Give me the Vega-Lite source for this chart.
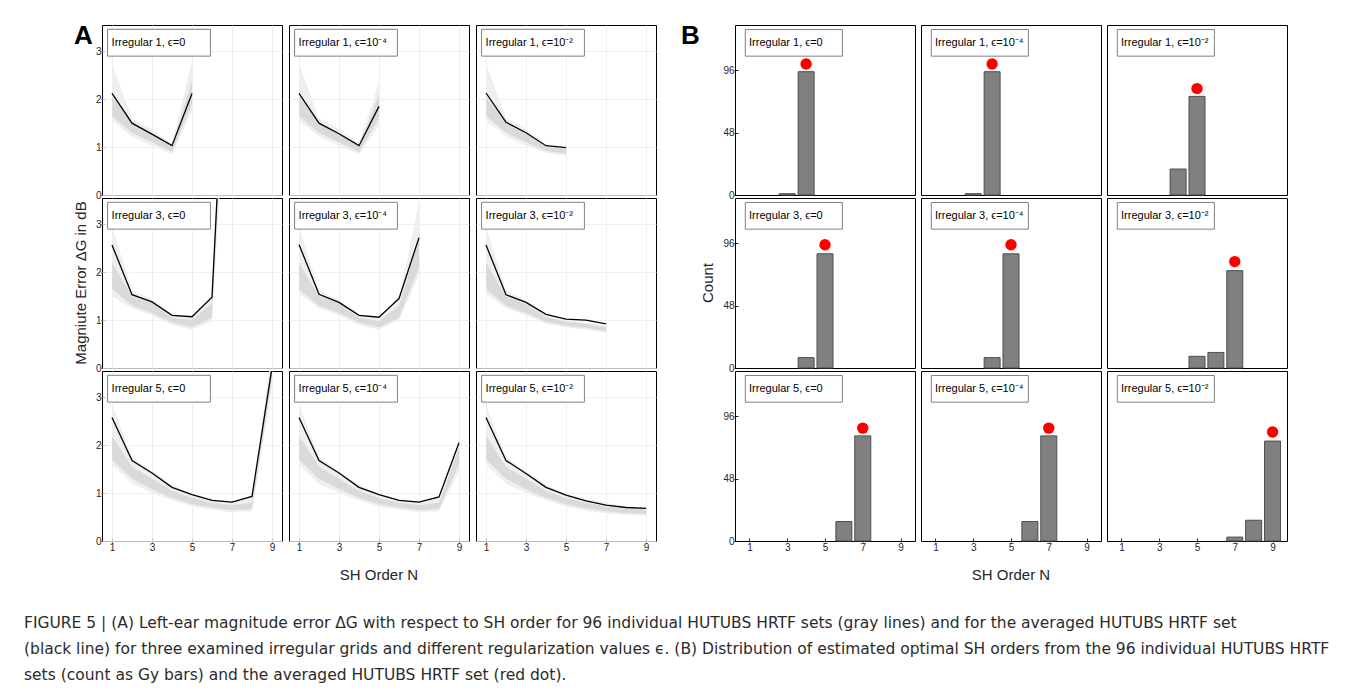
{
  "$schema": "https://vega.github.io/schema/vega-lite/v6.json",
  "padding": {"left": 23, "top": 22, "right": 10, "bottom": 5},
  "background": "#ffffff",
  "title": {
    "text": [
      "FIGURE 5 | (A) Left-ear magnitude error ΔG with respect to SH order for 96 individual HUTUBS HRTF sets (gray lines) and for the averaged HUTUBS HRTF set",
      "(black line) for three examined irregular grids and different regularization values ϵ. (B) Distribution of estimated optimal SH orders from the 96 individual HUTUBS HRTF",
      "sets (count as Gy bars) and the averaged HUTUBS HRTF set (red dot)."
    ],
    "orient": "bottom",
    "anchor": "start",
    "frame": "bounds",
    "dx": -50,
    "offset": 33,
    "fontSize": 15.5,
    "fontWeight": "normal",
    "lineHeight": 26,
    "color": "#2b2b2b",
    "font": "DejaVu Sans"
  },
  "datasets": {
    "a": [
      {"g": "1", "e": "0", "t": "Irregular 1,  ϵ=0"},
      {"g": "1", "e": "-4", "t": "Irregular 1,  ϵ=10⁻⁴"},
      {"g": "1", "e": "-2", "t": "Irregular 1,  ϵ=10⁻²"},
      {"g": "3", "e": "0", "t": "Irregular 3,  ϵ=0"},
      {"g": "3", "e": "-4", "t": "Irregular 3,  ϵ=10⁻⁴"},
      {"g": "3", "e": "-2", "t": "Irregular 3,  ϵ=10⁻²"},
      {"g": "5", "e": "0", "t": "Irregular 5,  ϵ=0"},
      {"g": "5", "e": "-4", "t": "Irregular 5,  ϵ=10⁻⁴"},
      {"g": "5", "e": "-2", "t": "Irregular 5,  ϵ=10⁻²"},

      {"g": "1", "e": "0", "n": 1, "lo": 1.55, "hi": 2.75, "clo": 1.65, "chi": 2.05, "m": 2.12},
      {"g": "1", "e": "0", "n": 2, "lo": 1.22, "hi": 1.6, "clo": 1.3, "chi": 1.5, "m": 1.5},
      {"g": "1", "e": "0", "n": 3, "lo": 1.03, "hi": 1.38, "clo": 1.1, "chi": 1.28, "m": 1.27},
      {"g": "1", "e": "0", "n": 4, "lo": 0.85, "hi": 1.08, "clo": 0.9, "chi": 1.02, "m": 1.03},
      {"g": "1", "e": "0", "n": 5, "lo": 1.75, "hi": 2.8, "clo": 1.9, "chi": 2.4, "m": 2.12},

      {"g": "1", "e": "-4", "n": 1, "lo": 1.55, "hi": 2.75, "clo": 1.65, "chi": 2.05, "m": 2.12},
      {"g": "1", "e": "-4", "n": 2, "lo": 1.22, "hi": 1.6, "clo": 1.3, "chi": 1.5, "m": 1.5},
      {"g": "1", "e": "-4", "n": 3, "lo": 1.03, "hi": 1.38, "clo": 1.1, "chi": 1.28, "m": 1.28},
      {"g": "1", "e": "-4", "n": 4, "lo": 0.85, "hi": 1.08, "clo": 0.9, "chi": 1.02, "m": 1.03},
      {"g": "1", "e": "-4", "n": 5, "lo": 1.45, "hi": 2.35, "clo": 1.6, "chi": 2.1, "m": 1.85},

      {"g": "1", "e": "-2", "n": 1, "lo": 1.55, "hi": 2.75, "clo": 1.65, "chi": 2.05, "m": 2.13},
      {"g": "1", "e": "-2", "n": 2, "lo": 1.22, "hi": 1.6, "clo": 1.3, "chi": 1.5, "m": 1.52},
      {"g": "1", "e": "-2", "n": 3, "lo": 1.03, "hi": 1.38, "clo": 1.1, "chi": 1.28, "m": 1.3},
      {"g": "1", "e": "-2", "n": 4, "lo": 0.88, "hi": 1.05, "clo": 0.92, "chi": 1.0, "m": 1.03},
      {"g": "1", "e": "-2", "n": 5, "lo": 0.82, "hi": 1.0, "clo": 0.86, "chi": 0.96, "m": 0.99},

      {"g": "3", "e": "0", "n": 1, "lo": 1.5, "hi": 2.95, "clo": 1.65, "chi": 2.2, "m": 2.57},
      {"g": "3", "e": "0", "n": 2, "lo": 1.25, "hi": 1.62, "clo": 1.3, "chi": 1.5, "m": 1.53},
      {"g": "3", "e": "0", "n": 3, "lo": 1.1, "hi": 1.45, "clo": 1.15, "chi": 1.35, "m": 1.38},
      {"g": "3", "e": "0", "n": 4, "lo": 0.9, "hi": 1.12, "clo": 0.95, "chi": 1.05, "m": 1.1},
      {"g": "3", "e": "0", "n": 5, "lo": 0.8, "hi": 1.05, "clo": 0.85, "chi": 1.0, "m": 1.07},
      {"g": "3", "e": "0", "n": 6, "lo": 0.98, "hi": 1.45, "clo": 1.05, "chi": 1.35, "m": 1.48},
      {"g": "3", "e": "0", "n": 7, "lo": 8.0, "hi": 12.0, "clo": 9.0, "chi": 11.0, "m": 9.7},

      {"g": "3", "e": "-4", "n": 1, "lo": 1.55, "hi": 2.95, "clo": 1.65, "chi": 2.2, "m": 2.58},
      {"g": "3", "e": "-4", "n": 2, "lo": 1.25, "hi": 1.62, "clo": 1.3, "chi": 1.5, "m": 1.54},
      {"g": "3", "e": "-4", "n": 3, "lo": 1.1, "hi": 1.42, "clo": 1.15, "chi": 1.35, "m": 1.37},
      {"g": "3", "e": "-4", "n": 4, "lo": 0.9, "hi": 1.12, "clo": 0.95, "chi": 1.05, "m": 1.1},
      {"g": "3", "e": "-4", "n": 5, "lo": 0.8, "hi": 1.02, "clo": 0.85, "chi": 0.98, "m": 1.06},
      {"g": "3", "e": "-4", "n": 6, "lo": 1.0, "hi": 1.4, "clo": 1.05, "chi": 1.3, "m": 1.45},
      {"g": "3", "e": "-4", "n": 7, "lo": 1.95, "hi": 3.5, "clo": 2.1, "chi": 2.7, "m": 2.72},

      {"g": "3", "e": "-2", "n": 1, "lo": 1.55, "hi": 2.95, "clo": 1.65, "chi": 2.2, "m": 2.57},
      {"g": "3", "e": "-2", "n": 2, "lo": 1.25, "hi": 1.62, "clo": 1.3, "chi": 1.5, "m": 1.53},
      {"g": "3", "e": "-2", "n": 3, "lo": 1.1, "hi": 1.42, "clo": 1.15, "chi": 1.33, "m": 1.37},
      {"g": "3", "e": "-2", "n": 4, "lo": 0.92, "hi": 1.1, "clo": 0.96, "chi": 1.06, "m": 1.12},
      {"g": "3", "e": "-2", "n": 5, "lo": 0.85, "hi": 1.0, "clo": 0.88, "chi": 0.97, "m": 1.02},
      {"g": "3", "e": "-2", "n": 6, "lo": 0.8, "hi": 0.95, "clo": 0.84, "chi": 0.92, "m": 1.0},
      {"g": "3", "e": "-2", "n": 7, "lo": 0.74, "hi": 0.88, "clo": 0.77, "chi": 0.85, "m": 0.92},

      {"g": "5", "e": "0", "n": 1, "lo": 1.6, "hi": 2.85, "clo": 1.7, "chi": 2.2, "m": 2.58},
      {"g": "5", "e": "0", "n": 2, "lo": 1.2, "hi": 1.75, "clo": 1.3, "chi": 1.55, "m": 1.68},
      {"g": "5", "e": "0", "n": 3, "lo": 1.0, "hi": 1.45, "clo": 1.08, "chi": 1.3, "m": 1.42},
      {"g": "5", "e": "0", "n": 4, "lo": 0.85, "hi": 1.18, "clo": 0.9, "chi": 1.05, "m": 1.12},
      {"g": "5", "e": "0", "n": 5, "lo": 0.72, "hi": 0.98, "clo": 0.77, "chi": 0.9, "m": 0.97},
      {"g": "5", "e": "0", "n": 6, "lo": 0.65, "hi": 0.88, "clo": 0.7, "chi": 0.8, "m": 0.85},
      {"g": "5", "e": "0", "n": 7, "lo": 0.6, "hi": 0.82, "clo": 0.64, "chi": 0.75, "m": 0.81},
      {"g": "5", "e": "0", "n": 8, "lo": 0.62, "hi": 0.9, "clo": 0.67, "chi": 0.8, "m": 0.93},
      {"g": "5", "e": "0", "n": 9, "lo": 3.2, "hi": 4.0, "clo": 3.4, "chi": 3.8, "m": 3.62},

      {"g": "5", "e": "-4", "n": 1, "lo": 1.6, "hi": 2.85, "clo": 1.7, "chi": 2.2, "m": 2.58},
      {"g": "5", "e": "-4", "n": 2, "lo": 1.2, "hi": 1.75, "clo": 1.3, "chi": 1.55, "m": 1.68},
      {"g": "5", "e": "-4", "n": 3, "lo": 1.0, "hi": 1.45, "clo": 1.08, "chi": 1.3, "m": 1.42},
      {"g": "5", "e": "-4", "n": 4, "lo": 0.85, "hi": 1.18, "clo": 0.9, "chi": 1.05, "m": 1.12},
      {"g": "5", "e": "-4", "n": 5, "lo": 0.72, "hi": 0.98, "clo": 0.77, "chi": 0.9, "m": 0.97},
      {"g": "5", "e": "-4", "n": 6, "lo": 0.65, "hi": 0.88, "clo": 0.7, "chi": 0.8, "m": 0.85},
      {"g": "5", "e": "-4", "n": 7, "lo": 0.6, "hi": 0.82, "clo": 0.64, "chi": 0.75, "m": 0.81},
      {"g": "5", "e": "-4", "n": 8, "lo": 0.62, "hi": 0.92, "clo": 0.67, "chi": 0.8, "m": 0.92},
      {"g": "5", "e": "-4", "n": 9, "lo": 1.45, "hi": 2.1, "clo": 1.6, "chi": 1.95, "m": 2.05},

      {"g": "5", "e": "-2", "n": 1, "lo": 1.6, "hi": 2.85, "clo": 1.7, "chi": 2.2, "m": 2.58},
      {"g": "5", "e": "-2", "n": 2, "lo": 1.2, "hi": 1.75, "clo": 1.3, "chi": 1.55, "m": 1.68},
      {"g": "5", "e": "-2", "n": 3, "lo": 1.0, "hi": 1.45, "clo": 1.08, "chi": 1.3, "m": 1.41},
      {"g": "5", "e": "-2", "n": 4, "lo": 0.85, "hi": 1.18, "clo": 0.9, "chi": 1.05, "m": 1.12},
      {"g": "5", "e": "-2", "n": 5, "lo": 0.72, "hi": 0.98, "clo": 0.77, "chi": 0.9, "m": 0.96},
      {"g": "5", "e": "-2", "n": 6, "lo": 0.63, "hi": 0.88, "clo": 0.68, "chi": 0.8, "m": 0.84},
      {"g": "5", "e": "-2", "n": 7, "lo": 0.58, "hi": 0.8, "clo": 0.62, "chi": 0.72, "m": 0.75},
      {"g": "5", "e": "-2", "n": 8, "lo": 0.55, "hi": 0.72, "clo": 0.58, "chi": 0.67, "m": 0.7},
      {"g": "5", "e": "-2", "n": 9, "lo": 0.53, "hi": 0.7, "clo": 0.56, "chi": 0.65, "m": 0.68}
    ],
    "b": [
      {"g": "1", "e": "0", "t": "Irregular 1,  ϵ=0"},
      {"g": "1", "e": "-4", "t": "Irregular 1,  ϵ=10⁻⁴"},
      {"g": "1", "e": "-2", "t": "Irregular 1,  ϵ=10⁻²"},
      {"g": "3", "e": "0", "t": "Irregular 3,  ϵ=0"},
      {"g": "3", "e": "-4", "t": "Irregular 3,  ϵ=10⁻⁴"},
      {"g": "3", "e": "-2", "t": "Irregular 3,  ϵ=10⁻²"},
      {"g": "5", "e": "0", "t": "Irregular 5,  ϵ=0"},
      {"g": "5", "e": "-4", "t": "Irregular 5,  ϵ=10⁻⁴"},
      {"g": "5", "e": "-2", "t": "Irregular 5,  ϵ=10⁻²"},

      {"g": "1", "e": "0", "n": 3, "c": 1},
      {"g": "1", "e": "0", "n": 4, "c": 95},
      {"g": "1", "e": "-4", "n": 3, "c": 1},
      {"g": "1", "e": "-4", "n": 4, "c": 95},
      {"g": "1", "e": "-2", "n": 4, "c": 20},
      {"g": "1", "e": "-2", "n": 5, "c": 76},
      {"g": "3", "e": "0", "n": 4, "c": 8},
      {"g": "3", "e": "0", "n": 5, "c": 88},
      {"g": "3", "e": "-4", "n": 4, "c": 8},
      {"g": "3", "e": "-4", "n": 5, "c": 88},
      {"g": "3", "e": "-2", "n": 5, "c": 9},
      {"g": "3", "e": "-2", "n": 6, "c": 12},
      {"g": "3", "e": "-2", "n": 7, "c": 75},
      {"g": "5", "e": "0", "n": 6, "c": 15},
      {"g": "5", "e": "0", "n": 7, "c": 81},
      {"g": "5", "e": "-4", "n": 6, "c": 15},
      {"g": "5", "e": "-4", "n": 7, "c": 81},
      {"g": "5", "e": "-2", "n": 7, "c": 3},
      {"g": "5", "e": "-2", "n": 8, "c": 16},
      {"g": "5", "e": "-2", "n": 9, "c": 77},

      {"g": "1", "e": "0", "n": 4, "d": 101},
      {"g": "1", "e": "-4", "n": 4, "d": 101},
      {"g": "1", "e": "-2", "n": 5, "d": 82},
      {"g": "3", "e": "0", "n": 5, "d": 95},
      {"g": "3", "e": "-4", "n": 5, "d": 95},
      {"g": "3", "e": "-2", "n": 7, "d": 82},
      {"g": "5", "e": "0", "n": 7, "d": 87},
      {"g": "5", "e": "-4", "n": 7, "d": 87},
      {"g": "5", "e": "-2", "n": 9, "d": 84}
    ]
  },
  "spacing": 24,
  "hconcat": [
    {
      "data": {"name": "a"},
      "title": {"text": "A", "anchor": "start", "frame": "group", "fontSize": 26, "fontWeight": "bold", "color": "#000000", "dx": -28, "dy": 24, "offset": 0},
      "facet": {
        "row": {"field": "g", "type": "nominal", "title": "Magniute Error ΔG in dB",
                "header": {"labels": false, "labelPadding": 0, "titleOrient": "left", "titleFontSize": 15, "titleFontWeight": "normal", "titleColor": "#262626", "titlePadding": -4}},
        "column": {"field": "e", "type": "nominal", "sort": ["0", "-4", "-2"], "title": "SH Order N",
                   "header": {"labels": false, "labelPadding": 0, "titleOrient": "bottom", "titleFontSize": 15, "titleFontWeight": "normal", "titleColor": "#262626", "titlePadding": 6}}
      },
      "spacing": {"row": 1, "column": 5},
      "spec": {
        "width": 180,
        "height": 170,
        "layer": [
          {
            "transform": [{"filter": "isValid(datum.lo)"}],
            "mark": {"type": "area", "color": "#efefef", "clip": true},
            "encoding": {
              "x": {"field": "n", "type": "quantitative", "scale": {"domain": [0.5, 9.5], "nice": false, "zero": false},
                    "axis": {"values": [1, 3, 5, 7, 9], "title": null, "grid": true}},
              "y": {"field": "lo", "type": "quantitative", "scale": {"domain": [0, 3.55], "nice": false},
                    "axis": {"values": [0, 1, 2, 3], "title": null, "grid": true}},
              "y2": {"field": "hi"}
            }
          },
          {
            "transform": [{"filter": "isValid(datum.lo)"}],
            "mark": {"type": "area", "color": "#dadada", "clip": true},
            "encoding": {
              "x": {"field": "n", "type": "quantitative"},
              "y": {"field": "clo", "type": "quantitative"},
              "y2": {"field": "chi"}
            }
          },
          {
            "transform": [{"filter": "isValid(datum.m)"}],
            "mark": {"type": "line", "color": "#000000", "strokeWidth": 1.3, "clip": true},
            "encoding": {
              "x": {"field": "n", "type": "quantitative"},
              "y": {"field": "m", "type": "quantitative"}
            }
          },
          {
            "transform": [{"filter": "isValid(datum.t)"}],
            "mark": {"type": "rect", "fill": "#ffffff", "stroke": "#808080", "strokeWidth": 1},
            "encoding": {
              "x": {"datum": 0.78},
              "x2": {"datum": 5.92},
              "y": {"datum": 3.46},
              "y2": {"datum": 2.9}
            }
          },
          {
            "transform": [{"filter": "isValid(datum.t)"}],
            "mark": {"type": "text", "align": "left", "baseline": "middle", "fontSize": 11, "color": "#000000"},
            "encoding": {
              "x": {"datum": 0.98},
              "y": {"datum": 3.18},
              "text": {"field": "t"}
            }
          }
        ]
      }
    },
    {
      "data": {"name": "b"},
      "title": {"text": "B", "anchor": "start", "frame": "group", "fontSize": 26, "fontWeight": "bold", "color": "#000000", "dx": -54, "dy": 24, "offset": 0},
      "facet": {
        "row": {"field": "g", "type": "nominal", "title": "Count",
                "header": {"labels": false, "labelPadding": 0, "titleOrient": "left", "titleFontSize": 15, "titleFontWeight": "normal", "titleColor": "#262626", "titlePadding": -4}},
        "column": {"field": "e", "type": "nominal", "sort": ["0", "-4", "-2"], "title": "SH Order N",
                   "header": {"labels": false, "labelPadding": 0, "titleOrient": "bottom", "titleFontSize": 15, "titleFontWeight": "normal", "titleColor": "#262626", "titlePadding": 6}}
      },
      "spacing": {"row": 1, "column": 4},
      "spec": {
        "width": 180,
        "height": 170,
        "layer": [
          {
            "transform": [{"filter": "isValid(datum.c)"}],
            "mark": {"type": "bar", "width": 16, "fill": "#808080", "stroke": "#4d4d4d", "strokeWidth": 1},
            "encoding": {
              "x": {"field": "n", "type": "quantitative", "scale": {"domain": [0.5, 9.5], "nice": false, "zero": false},
                    "axis": {"values": [1, 3, 5, 7, 9], "title": null, "grid": false}},
              "y": {"field": "c", "type": "quantitative", "scale": {"domain": [0, 131], "nice": false},
                    "axis": {"values": [0, 48, 96], "title": null, "grid": false}}
            }
          },
          {
            "transform": [{"filter": "isValid(datum.d)"}],
            "mark": {"type": "circle", "color": "#ff0000", "size": 130, "opacity": 1},
            "encoding": {
              "x": {"field": "n", "type": "quantitative"},
              "y": {"field": "d", "type": "quantitative"}
            }
          },
          {
            "transform": [{"filter": "isValid(datum.t)"}],
            "mark": {"type": "rect", "fill": "#ffffff", "stroke": "#808080", "strokeWidth": 1},
            "encoding": {
              "x": {"datum": 0.78},
              "x2": {"datum": 5.92},
              "y": {"datum": 127.5},
              "y2": {"datum": 107}
            }
          },
          {
            "transform": [{"filter": "isValid(datum.t)"}],
            "mark": {"type": "text", "align": "left", "baseline": "middle", "fontSize": 11, "color": "#000000"},
            "encoding": {
              "x": {"datum": 0.98},
              "y": {"datum": 117.5},
              "text": {"field": "t"}
            }
          }
        ]
      }
    }
  ],
  "config": {
    "font": "Liberation Sans",
    "view": {"stroke": "#000000", "strokeWidth": 1},
    "axis": {
      "labelFontSize": 10,
      "labelColor": "#262626",
      "domain": false,
      "tickColor": "#262626",
      "tickSize": -4,
      "labelPadding": 4,
      "gridColor": "#ebebeb",
      "gridWidth": 0.8
    },
    "axisY": {"minExtent": 0},
    "axisX": {"minExtent": 0}
  }
}
